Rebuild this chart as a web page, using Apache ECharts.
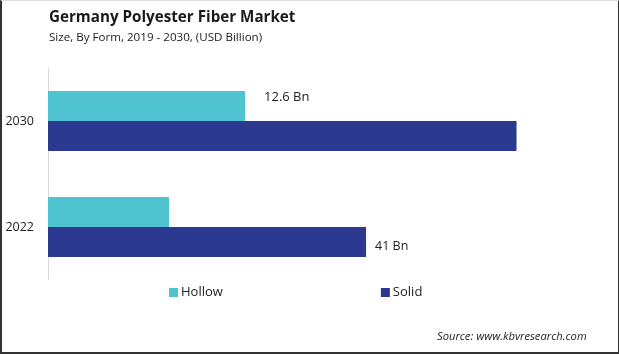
<!DOCTYPE html>
<html><head><meta charset="utf-8">
<script src="https://cdn.jsdelivr.net/npm/echarts@6/dist/echarts.min.js"></script>
<style>
html,body{margin:0;padding:0;background:#fff;}
#frame{position:absolute;left:0;top:0;width:616px;height:351px;border-left:2px solid #333;border-right:2px solid #333;border-bottom:2px solid #333;border-top:1px solid #ddd;}
#c{position:absolute;left:0;top:0;width:619px;height:354px;}
</style></head>
<body>
<div id="c"></div>
<div id="frame"></div>
<script>
const categories = ['2022', '2030'];
const seriesNames = ['Hollow', 'Solid'];
const hollowValues = [15.6, 25.4];
const solidValues = [41, 60.4];
const hollowLabels = ['', '12.6 Bn'];
const solidLabels = ['41 Bn', ''];
const colors = ['#4fc3cf', '#2b3990'];

const chart = echarts.init(document.getElementById('c'), null, {renderer: 'canvas'});
const font = 'Open Sans, sans-serif';
chart.setOption({
  animation: false,
  title: [
    {text: 'Germany Polyester Fiber Market', left: 44, top: 5,
     textStyle: {fontFamily: font, fontWeight: 'bold', fontSize: 15.2, color: '#1a1a1a'}},
    {text: 'Size, By Form, 2019 - 2030, (USD Billion)', left: 44, top: 27,
     textStyle: {fontFamily: font, fontWeight: 'normal', fontSize: 11.6, color: '#222'}},
    {text: 'Source: www.kbvresearch.com', left: 432, top: 326,
     textStyle: {fontFamily: font, fontStyle: 'italic', fontWeight: 'normal', fontSize: 11.2, color: '#222'}}
  ],
  legend: {
    data: seriesNames, top: 281, left: 164, itemGap: 158,
    itemWidth: 9, itemHeight: 9, icon: 'rect',
    textStyle: {fontFamily: font, fontSize: 13, color: '#222', padding: [0, 0, 0, -2]}
  },
  grid: {left: 48, top: 68, width: 543, height: 212, containLabel: false},
  xAxis: {type: 'value', min: 0, max: 70, show: false},
  yAxis: {type: 'category', data: categories,
    axisLine: {show: true, lineStyle: {color: '#d9d9d9', width: 1}},
    axisTick: {show: false},
    axisLabel: {fontFamily: font, fontSize: 12.5, color: '#222', margin: 14}},
  series: [
    {name: 'Hollow', type: 'bar', data: hollowValues, barWidth: 30, barGap: '0%',
     itemStyle: {color: colors[0]},
     label: {show: true, position: 'right', distance: 19, offset: [0, -9],
       fontFamily: font, fontSize: 13, color: '#222',
       formatter: p => hollowLabels[p.dataIndex]}},
    {name: 'Solid', type: 'bar', data: solidValues, barWidth: 30,
     itemStyle: {color: colors[1]},
     label: {show: true, position: 'right', distance: 9, offset: [0, 4],
       fontFamily: font, fontSize: 12.5, color: '#222',
       formatter: p => solidLabels[p.dataIndex]}}
  ]
});
</script>
</body></html>
